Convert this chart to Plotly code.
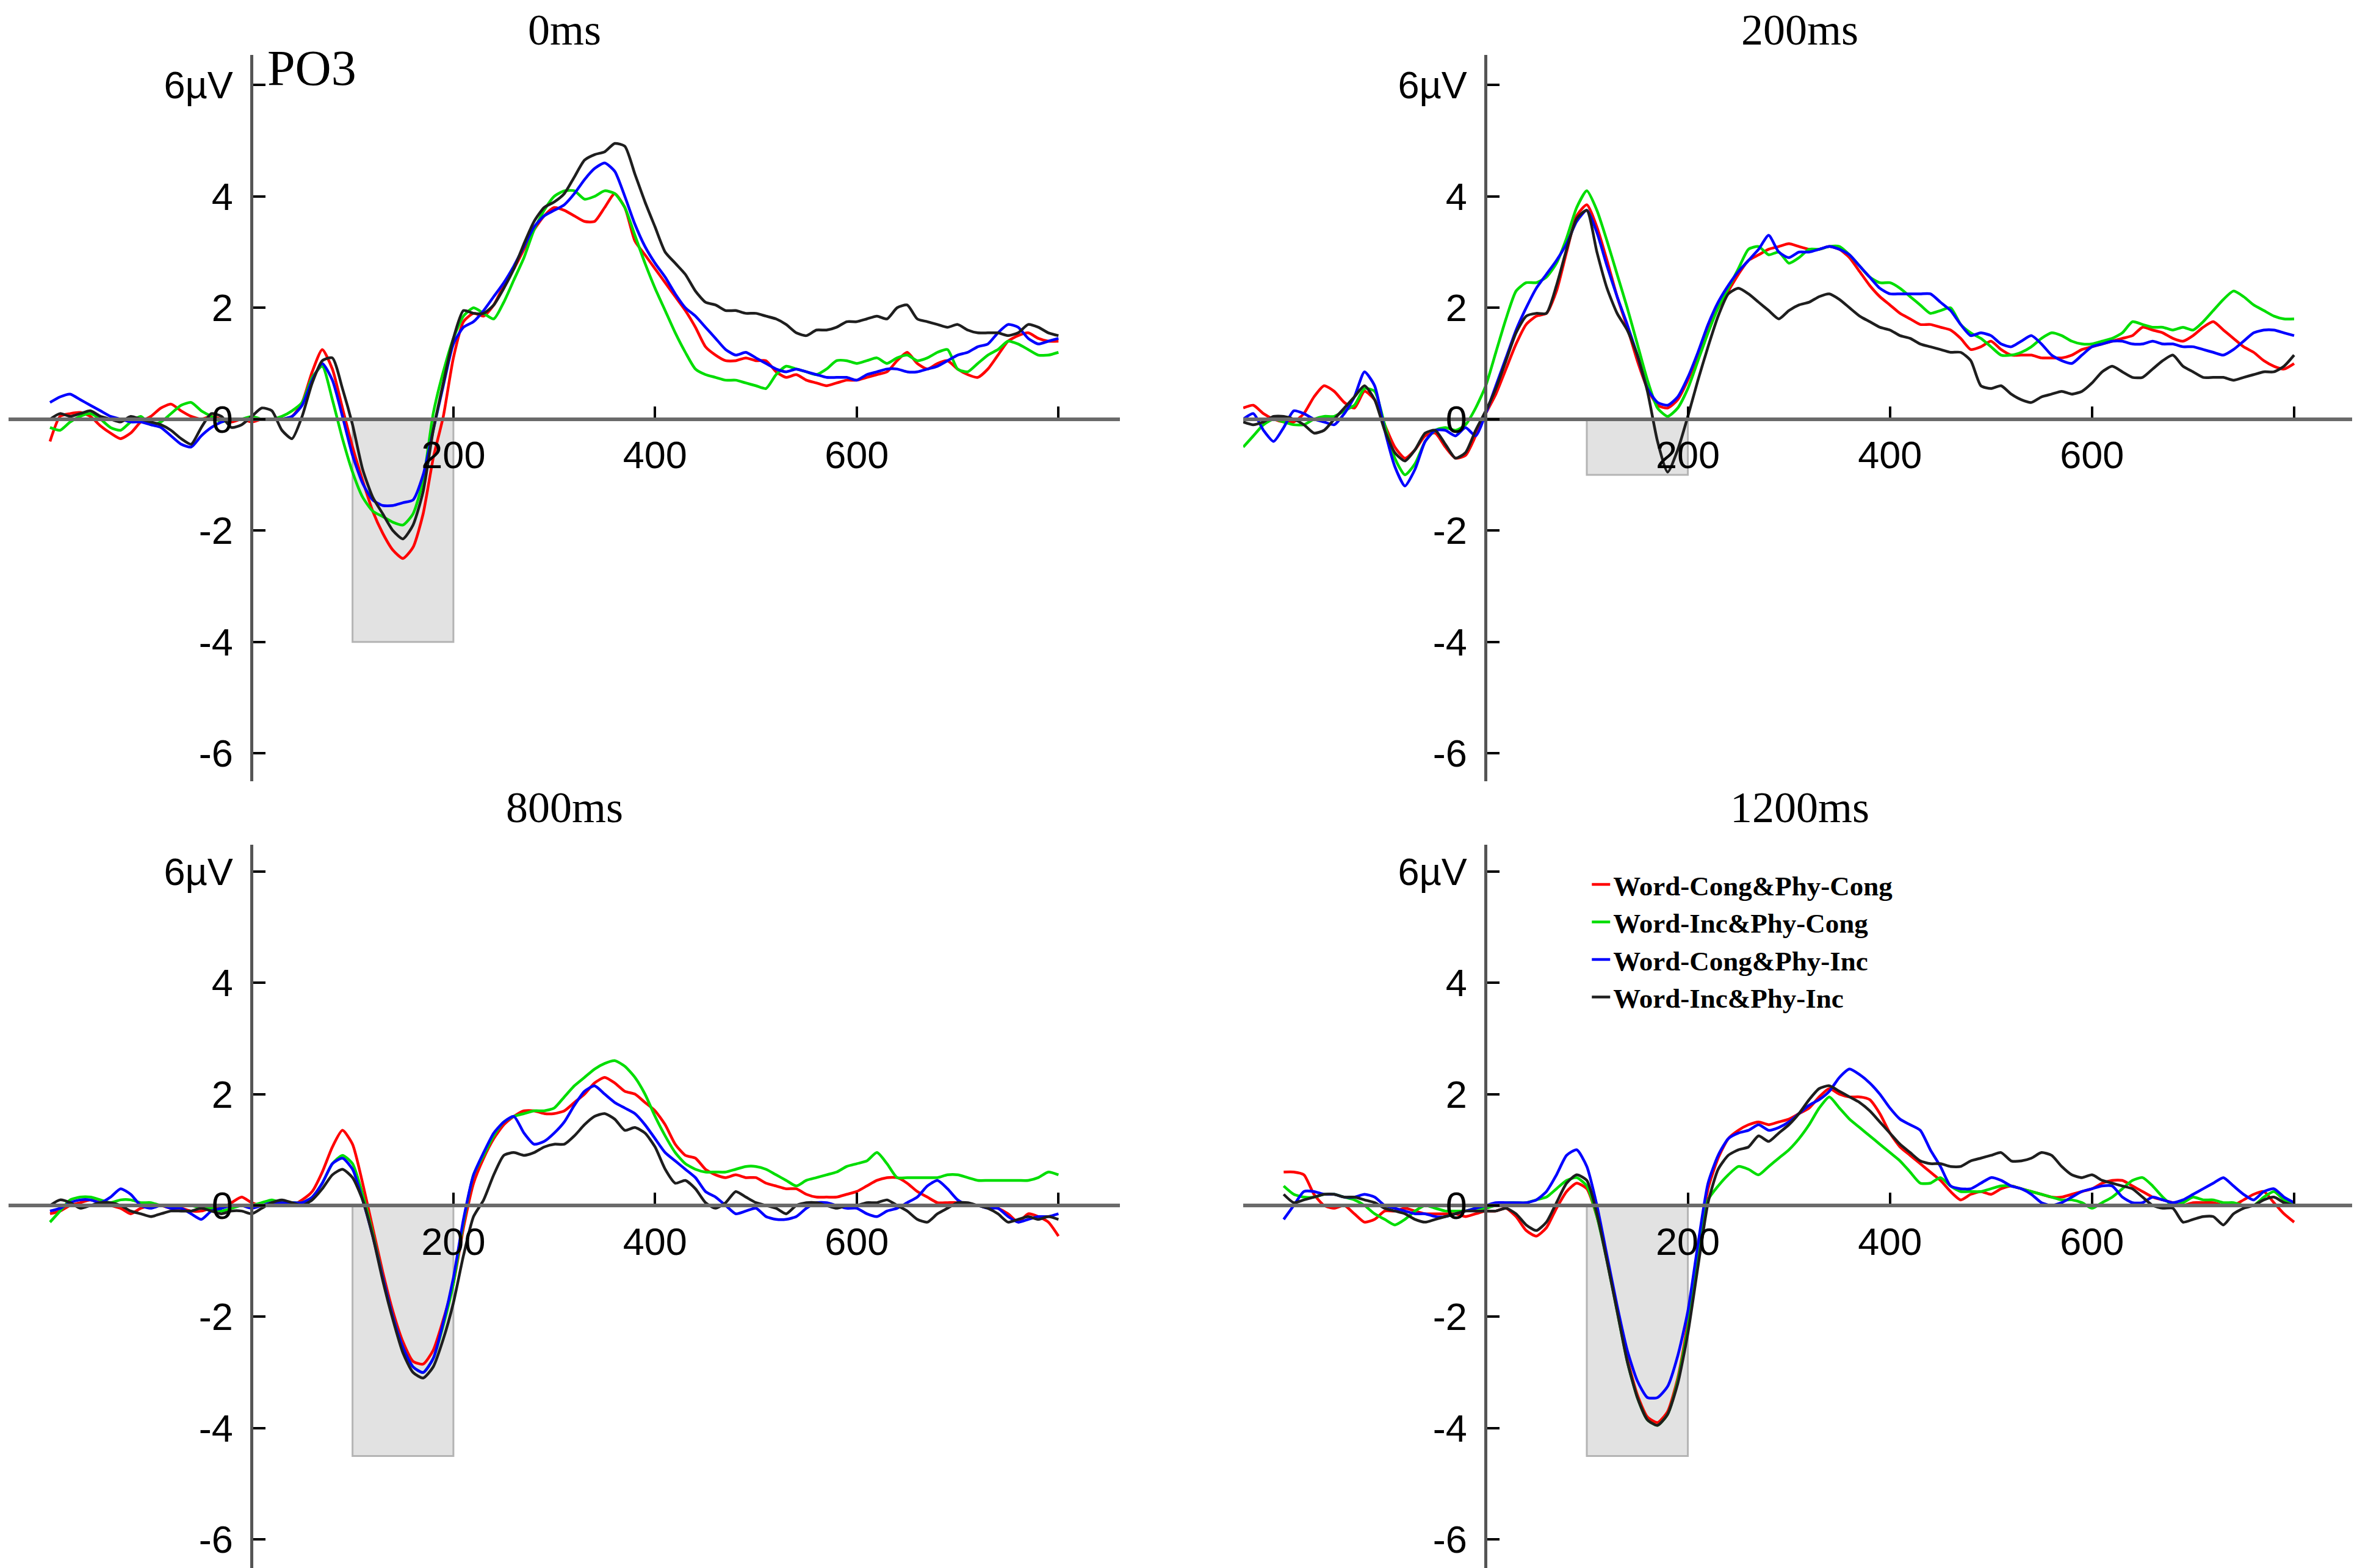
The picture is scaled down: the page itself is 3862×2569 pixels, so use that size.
import plotly.graph_objects as go

# Sample times (ms). The 200ms condition was epoched from -240 ms.
time_std = list(range(-200, 801, 10))
time_200ms = list(range(-240, 801, 10))

conditions = ["Word-Cong&Phy-Cong", "Word-Inc&Phy-Cong", "Word-Cong&Phy-Inc", "Word-Inc&Phy-Inc"]
condition_colors = ["#ff0000", "#00dd00", "#0000ff", "#1e1e1e"]

panel_titles = ["0ms", "200ms", "800ms", "1200ms"]

# Analysis window (grey box): 100-200 ms, floor in µV per panel
window_start = 100
window_end = 200
window_floor = [-4, -1, -4.5, -4.5]

# ---- 0ms panel (µV) ----
red_0ms = [
    -0.40, 0.05, 0.10, 0.12, 0.05, -0.12, -0.25, -0.35, -0.25, -0.05,
    0.05, 0.20, 0.27, 0.15, 0.05, 0.00, 0.05, 0.00, -0.05, 0.00,
    -0.05, 0.00, 0.00, 0.00, 0.05, 0.30, 0.85, 1.25, 0.90, 0.20,
    -0.50, -1.10, -1.65, -2.05, -2.35, -2.50, -2.30, -1.70, -0.70, 0.05,
    1.10, 1.75, 1.90, 1.85, 2.05, 2.40, 2.70, 3.05, 3.40, 3.65,
    3.80, 3.75, 3.65, 3.55, 3.55, 3.80, 4.05, 3.80, 3.20, 2.95,
    2.70, 2.45, 2.20, 1.95, 1.65, 1.30, 1.15, 1.05, 1.05, 1.10,
    1.05, 1.05, 0.85, 0.75, 0.80, 0.70, 0.65, 0.60, 0.65, 0.70,
    0.70, 0.75, 0.80, 0.85, 1.05, 1.20, 1.00, 0.90, 1.00, 1.05,
    0.90, 0.80, 0.75, 0.90, 1.15, 1.40, 1.50, 1.55, 1.45, 1.40,
    1.40,
]
green_0ms = [
    -0.15, -0.20, -0.05, 0.05, 0.10, 0.00, -0.15, -0.20, -0.05, 0.05,
    -0.10, -0.05, 0.10, 0.25, 0.30, 0.15, 0.05, -0.05, 0.00, 0.00,
    0.05, 0.00, 0.00, 0.05, 0.15, 0.30, 0.75, 0.95, 0.35, -0.35,
    -0.95, -1.40, -1.65, -1.75, -1.85, -1.90, -1.70, -1.10, 0.10, 0.85,
    1.45, 1.85, 2.00, 1.90, 1.80, 2.10, 2.50, 2.90, 3.40, 3.75,
    4.00, 4.10, 4.10, 3.95, 4.00, 4.10, 4.05, 3.80, 3.30, 2.80,
    2.35, 1.95, 1.55, 1.20, 0.90, 0.80, 0.75, 0.70, 0.70, 0.65,
    0.60, 0.55, 0.80, 0.95, 0.90, 0.85, 0.80, 0.90, 1.05, 1.05,
    1.00, 1.05, 1.10, 1.00, 1.10, 1.15, 1.05, 1.10, 1.20, 1.25,
    0.90, 0.85, 1.00, 1.15, 1.25, 1.40, 1.35, 1.25, 1.15, 1.15,
    1.20,
]
blue_0ms = [
    0.30, 0.40, 0.45, 0.35, 0.25, 0.15, 0.05, 0.00, -0.05, -0.05,
    -0.10, -0.15, -0.30, -0.45, -0.50, -0.30, -0.15, -0.05, 0.00, 0.00,
    0.00, 0.00, 0.00, 0.00, 0.05, 0.25, 0.70, 1.00, 0.70, 0.05,
    -0.65, -1.15, -1.45, -1.55, -1.55, -1.50, -1.45, -1.00, -0.20, 0.60,
    1.35, 1.65, 1.75, 1.95, 2.20, 2.45, 2.75, 3.10, 3.45, 3.65,
    3.75, 3.85, 4.05, 4.30, 4.50, 4.60, 4.45, 4.00, 3.50, 3.10,
    2.80, 2.55, 2.25, 2.00, 1.85, 1.65, 1.45, 1.25, 1.15, 1.20,
    1.10, 1.00, 0.90, 0.85, 0.90, 0.85, 0.80, 0.75, 0.75, 0.75,
    0.70, 0.80, 0.85, 0.90, 0.90, 0.85, 0.85, 0.90, 0.95, 1.05,
    1.15, 1.20, 1.30, 1.35, 1.55, 1.70, 1.65, 1.45, 1.35, 1.40,
    1.45,
]
black_0ms = [
    0.00, 0.10, 0.05, 0.10, 0.15, 0.05, 0.00, -0.05, 0.05, 0.00,
    -0.05, -0.10, -0.20, -0.35, -0.45, -0.15, 0.10, 0.05, -0.15, -0.10,
    0.05, 0.20, 0.15, -0.20, -0.35, 0.05, 0.65, 1.05, 1.10, 0.55,
    -0.10, -0.90, -1.40, -1.70, -2.00, -2.15, -1.90, -1.30, -0.20, 0.65,
    1.45, 1.95, 1.90, 1.90, 2.05, 2.35, 2.70, 3.15, 3.55, 3.80,
    3.90, 4.05, 4.35, 4.65, 4.75, 4.80, 4.95, 4.90, 4.40, 3.90,
    3.45, 3.00, 2.80, 2.60, 2.30, 2.10, 2.05, 1.95, 1.95, 1.90,
    1.90, 1.85, 1.80, 1.70, 1.55, 1.50, 1.60, 1.60, 1.65, 1.75,
    1.75, 1.80, 1.85, 1.80, 2.00, 2.05, 1.80, 1.75, 1.70, 1.65,
    1.70, 1.60, 1.55, 1.55, 1.55, 1.50, 1.55, 1.70, 1.65, 1.55,
    1.50,
]

# ---- 200ms panel (µV), starts at -240 ms ----
red_200ms = [
    0.20, 0.25, 0.10, 0.00,
    -0.05, -0.05, 0.10, 0.40, 0.60, 0.50, 0.30, 0.20, 0.50, 0.35,
    -0.10, -0.50, -0.70, -0.55, -0.30, -0.25, -0.50, -0.70, -0.65, -0.30,
    0.10, 0.45, 0.90, 1.35, 1.70, 1.85, 1.90, 2.30, 3.00, 3.65,
    3.85, 3.45, 2.85, 2.20, 1.65, 1.05, 0.55, 0.25, 0.20, 0.35,
    0.70, 1.15, 1.60, 2.00, 2.30, 2.60, 2.85, 2.95, 3.05, 3.10,
    3.15, 3.10, 3.05, 3.05, 3.10, 3.05, 2.90, 2.65, 2.40, 2.20,
    2.05, 1.90, 1.80, 1.70, 1.70, 1.65, 1.60, 1.45, 1.25, 1.30,
    1.40, 1.25, 1.15, 1.15, 1.15, 1.10, 1.10, 1.10, 1.15, 1.25,
    1.30, 1.35, 1.40, 1.45, 1.50, 1.65, 1.60, 1.55, 1.45, 1.40,
    1.50, 1.65, 1.75, 1.60, 1.45, 1.30, 1.20, 1.05, 0.95, 0.90,
    1.00,
]
green_200ms = [
    -0.50, -0.30, -0.10, 0.00,
    -0.05, -0.10, -0.10, 0.00, 0.05, 0.05, 0.15, 0.25, 0.55, 0.50,
    -0.10, -0.70, -1.00, -0.80, -0.40, -0.20, -0.15, -0.20, -0.10, 0.20,
    0.60, 1.20, 1.80, 2.30, 2.45, 2.45, 2.55, 2.80, 3.25, 3.80,
    4.10, 3.75, 3.20, 2.60, 2.00, 1.35, 0.70, 0.20, 0.05, 0.20,
    0.55, 1.05, 1.55, 2.00, 2.35, 2.70, 3.05, 3.10, 2.95, 3.00,
    2.80, 2.90, 3.05, 3.05, 3.10, 3.10, 2.95, 2.75, 2.55, 2.45,
    2.45, 2.35, 2.20, 2.05, 1.90, 1.95, 2.00, 1.70, 1.55, 1.45,
    1.30, 1.15, 1.15, 1.20, 1.30, 1.45, 1.55, 1.50, 1.40, 1.35,
    1.35, 1.40, 1.45, 1.55, 1.75, 1.70, 1.65, 1.65, 1.60, 1.65,
    1.60, 1.75, 1.95, 2.15, 2.30, 2.20, 2.05, 1.95, 1.85, 1.80,
    1.80,
]
blue_200ms = [
    0.00, 0.10, -0.20, -0.40,
    -0.15, 0.15, 0.10, 0.00, -0.05, -0.10, 0.10, 0.40, 0.85, 0.60,
    -0.20, -0.85, -1.20, -0.90, -0.40, -0.20, -0.20, -0.30, -0.15, -0.30,
    0.10, 0.60, 1.10, 1.60, 2.00, 2.35, 2.60, 2.85, 3.15, 3.55,
    3.75, 3.35, 2.75, 2.20, 1.70, 1.15, 0.55, 0.30, 0.25, 0.40,
    0.75, 1.20, 1.70, 2.10, 2.40, 2.65, 2.85, 3.05, 3.30, 3.00,
    2.90, 3.00, 3.00, 3.05, 3.10, 3.05, 2.95, 2.75, 2.55, 2.35,
    2.25, 2.25, 2.25, 2.25, 2.25, 2.10, 1.95, 1.70, 1.50, 1.55,
    1.50, 1.35, 1.30, 1.40, 1.50, 1.35, 1.15, 1.05, 1.00, 1.15,
    1.30, 1.35, 1.40, 1.40, 1.35, 1.35, 1.40, 1.35, 1.35, 1.30,
    1.30, 1.25, 1.20, 1.15, 1.25, 1.40, 1.55, 1.60, 1.60, 1.55,
    1.50,
]
black_200ms = [
    -0.05, -0.10, -0.05, 0.05,
    0.05, 0.00, -0.10, -0.25, -0.20, 0.00, 0.20, 0.40, 0.60, 0.35,
    -0.20, -0.60, -0.75, -0.55, -0.25, -0.20, -0.45, -0.70, -0.60, -0.20,
    0.15, 0.55, 1.05, 1.55, 1.85, 1.90, 1.90, 2.40, 3.05, 3.60,
    3.75, 3.00, 2.35, 1.90, 1.60, 1.15, 0.50, -0.40, -0.95, -0.55,
    0.05, 0.70, 1.30, 1.85, 2.25, 2.35, 2.25, 2.10, 1.95, 1.80,
    1.95, 2.05, 2.10, 2.20, 2.25, 2.15, 2.00, 1.85, 1.75, 1.65,
    1.60, 1.50, 1.45, 1.35, 1.30, 1.25, 1.20, 1.20, 1.05, 0.60,
    0.55, 0.60, 0.45, 0.35, 0.30, 0.40, 0.45, 0.50, 0.45, 0.50,
    0.65, 0.85, 0.95, 0.85, 0.75, 0.75, 0.90, 1.05, 1.15, 0.95,
    0.85, 0.75, 0.75, 0.75, 0.70, 0.75, 0.80, 0.85, 0.85, 0.95,
    1.15,
]

# ---- 800ms panel (µV) ----
red_800ms = [
    -0.15, -0.10, 0.00, 0.05, 0.10, 0.05, 0.00, -0.05, -0.15, -0.05,
    0.00, 0.00, -0.05, -0.05, -0.10, -0.10, -0.05, -0.05, 0.05, 0.15,
    0.05, 0.00, 0.05, 0.00, 0.00, 0.10, 0.25, 0.60, 1.05, 1.35,
    1.10, 0.40, -0.40, -1.20, -1.90, -2.45, -2.80, -2.85, -2.60, -2.05,
    -1.40, -0.40, 0.40, 0.85, 1.20, 1.45, 1.60, 1.70, 1.70, 1.65,
    1.65, 1.70, 1.85, 2.00, 2.20, 2.30, 2.20, 2.05, 2.00, 1.85,
    1.70, 1.45, 1.10, 0.90, 0.85, 0.65, 0.55, 0.50, 0.55, 0.50,
    0.50, 0.40, 0.35, 0.30, 0.30, 0.20, 0.15, 0.15, 0.15, 0.20,
    0.25, 0.35, 0.45, 0.50, 0.50, 0.40, 0.25, 0.15, 0.05, 0.05,
    0.05, 0.00, 0.00, 0.00, -0.05, -0.15, -0.30, -0.15, -0.20, -0.30,
    -0.55,
]
green_800ms = [
    -0.30, -0.10, 0.10, 0.15, 0.15, 0.10, 0.05, 0.10, 0.10, 0.05,
    0.05, 0.00, 0.00, 0.00, 0.00, -0.05, -0.05, -0.10, -0.05, 0.00,
    0.00, 0.05, 0.10, 0.05, 0.05, 0.05, 0.15, 0.40, 0.75, 0.90,
    0.75, 0.20, -0.50, -1.30, -2.00, -2.55, -2.90, -3.00, -2.75, -2.15,
    -1.40, -0.30, 0.55, 0.90, 1.25, 1.50, 1.60, 1.65, 1.70, 1.70,
    1.75, 1.95, 2.15, 2.30, 2.45, 2.55, 2.60, 2.50, 2.30, 2.00,
    1.60, 1.25, 0.95, 0.75, 0.65, 0.60, 0.60, 0.60, 0.65, 0.70,
    0.70, 0.65, 0.55, 0.45, 0.35, 0.45, 0.50, 0.55, 0.60, 0.70,
    0.75, 0.80, 0.95, 0.75, 0.50, 0.50, 0.50, 0.50, 0.50, 0.55,
    0.55, 0.50, 0.45, 0.45, 0.45, 0.45, 0.45, 0.45, 0.50, 0.60,
    0.55,
]
blue_800ms = [
    -0.10, -0.05, 0.05, 0.10, 0.10, 0.05, 0.15, 0.30, 0.20, 0.00,
    -0.05, 0.00, -0.05, -0.05, -0.15, -0.25, -0.10, -0.05, 0.00, 0.00,
    -0.05, 0.00, 0.05, 0.05, 0.05, 0.05, 0.15, 0.40, 0.75, 0.85,
    0.65, 0.10, -0.55, -1.30, -2.00, -2.55, -2.90, -3.00, -2.75, -2.10,
    -1.30, -0.25, 0.55, 0.95, 1.30, 1.50, 1.60, 1.30, 1.10, 1.15,
    1.30, 1.50, 1.80, 2.05, 2.15, 2.00, 1.85, 1.75, 1.65, 1.45,
    1.20, 0.95, 0.80, 0.65, 0.50, 0.25, 0.15, 0.00, -0.15, -0.10,
    -0.05, -0.20, -0.25, -0.25, -0.20, -0.05, 0.05, 0.05, 0.00, -0.05,
    -0.05, -0.15, -0.20, -0.10, -0.05, 0.05, 0.15, 0.35, 0.45, 0.30,
    0.10, 0.00, 0.00, -0.05, -0.05, -0.20, -0.30, -0.25, -0.20, -0.20,
    -0.15,
]
black_800ms = [
    0.00, 0.10, 0.05, -0.05, 0.00, 0.05, 0.05, 0.00, -0.10, -0.15,
    -0.20, -0.15, -0.10, -0.10, -0.10, -0.05, -0.10, -0.15, -0.10, -0.10,
    -0.15, -0.05, 0.05, 0.10, 0.05, 0.00, 0.10, 0.30, 0.55, 0.65,
    0.50, 0.10, -0.55, -1.35, -2.05, -2.65, -3.00, -3.10, -2.90, -2.40,
    -1.75, -0.90, -0.20, 0.10, 0.55, 0.90, 0.95, 0.90, 0.95, 1.05,
    1.10, 1.10, 1.25, 1.45, 1.60, 1.65, 1.55, 1.35, 1.40, 1.30,
    1.05, 0.65, 0.40, 0.45, 0.30, 0.05, -0.05, 0.05, 0.25, 0.15,
    0.05, 0.00, -0.05, -0.15, 0.00, 0.05, 0.05, 0.00, -0.05, 0.00,
    0.00, 0.05, 0.05, 0.10, 0.00, -0.10, -0.25, -0.30, -0.15, -0.05,
    0.05, 0.05, 0.00, -0.05, -0.15, -0.30, -0.25, -0.20, -0.25, -0.20,
    -0.25,
]

# ---- 1200ms panel (µV) ----
red_1200ms = [
    0.60, 0.60, 0.55, 0.20, 0.00, -0.05, 0.00, -0.15, -0.30, -0.25,
    -0.10, -0.10, -0.05, -0.10, -0.15, -0.15, -0.15, -0.15, -0.20, -0.15,
    -0.10, -0.10, -0.05, -0.20, -0.45, -0.55, -0.40, -0.05, 0.25, 0.40,
    0.30, -0.20, -0.95, -1.85, -2.75, -3.40, -3.80, -3.90, -3.70, -3.10,
    -2.10, -0.80, 0.30, 0.85, 1.20, 1.35, 1.45, 1.50, 1.45, 1.50,
    1.55, 1.65, 1.75, 1.95, 2.10, 2.00, 1.95, 1.95, 1.90, 1.65,
    1.30, 1.05, 0.90, 0.75, 0.60, 0.45, 0.25, 0.10, 0.20, 0.25,
    0.20, 0.30, 0.35, 0.30, 0.25, 0.20, 0.15, 0.15, 0.20, 0.25,
    0.30, 0.40, 0.45, 0.45, 0.35, 0.25, 0.15, 0.10, 0.05, 0.00,
    0.05, 0.05, 0.05, 0.00, 0.00, 0.10, 0.20, 0.25, 0.05, -0.15,
    -0.30,
]
green_1200ms = [
    0.35, 0.20, 0.15, 0.15, 0.20, 0.20, 0.15, 0.10, 0.00, -0.15,
    -0.25, -0.35, -0.25, -0.10, 0.00, -0.05, -0.10, -0.10, -0.10, -0.05,
    -0.05, 0.00, 0.05, 0.05, 0.05, 0.10, 0.15, 0.30, 0.45, 0.50,
    0.35, -0.20, -1.00, -1.90, -2.80, -3.45, -3.85, -3.95, -3.75, -3.15,
    -2.20, -0.90, 0.10, 0.35, 0.55, 0.70, 0.65, 0.55, 0.70, 0.85,
    1.00, 1.20, 1.45, 1.75, 1.95, 1.75, 1.55, 1.40, 1.25, 1.10,
    0.95, 0.80, 0.60, 0.40, 0.40, 0.50, 0.35, 0.25, 0.25, 0.25,
    0.30, 0.35, 0.35, 0.30, 0.25, 0.20, 0.15, 0.10, 0.10, 0.05,
    -0.05, 0.05, 0.15, 0.30, 0.45, 0.50, 0.35, 0.15, 0.00, 0.05,
    0.15, 0.10, 0.10, 0.05, 0.05, 0.00, 0.00, 0.15, 0.25, 0.10,
    0.00,
]
blue_1200ms = [
    -0.25, 0.00, 0.25, 0.25, 0.20, 0.20, 0.15, 0.15, 0.20, 0.15,
    0.00, -0.05, -0.10, -0.15, -0.15, -0.20, -0.20, -0.15, -0.10, -0.05,
    0.00, 0.05, 0.05, 0.05, 0.05, 0.10, 0.25, 0.55, 0.90, 1.00,
    0.70, 0.00, -0.90, -1.80, -2.60, -3.15, -3.45, -3.45, -3.25, -2.70,
    -1.90, -0.70, 0.40, 0.90, 1.20, 1.30, 1.35, 1.45, 1.35, 1.40,
    1.50, 1.65, 1.80, 1.90, 2.05, 2.30, 2.45, 2.35, 2.20, 2.00,
    1.75, 1.55, 1.45, 1.35, 1.00, 0.70, 0.35, 0.30, 0.30, 0.40,
    0.50, 0.45, 0.35, 0.30, 0.20, 0.05, 0.00, 0.05, 0.15, 0.25,
    0.30, 0.35, 0.35, 0.15, 0.05, 0.05, 0.15, 0.10, 0.05, 0.10,
    0.20, 0.30, 0.40, 0.50, 0.35, 0.20, 0.10, 0.25, 0.30, 0.15,
    0.05,
]
black_1200ms = [
    0.20, 0.05, 0.10, 0.15, 0.20, 0.20, 0.15, 0.15, 0.10, 0.05,
    -0.05, -0.10, -0.15, -0.25, -0.30, -0.25, -0.20, -0.15, -0.10, -0.10,
    -0.10, -0.10, -0.05, -0.15, -0.35, -0.45, -0.30, 0.05, 0.40, 0.55,
    0.45, -0.15, -1.00, -1.90, -2.80, -3.45, -3.85, -3.95, -3.75, -3.20,
    -2.30, -1.10, 0.05, 0.65, 0.90, 1.00, 1.05, 1.25, 1.15, 1.30,
    1.45, 1.65, 1.90, 2.10, 2.15, 2.05, 1.95, 1.85, 1.70, 1.50,
    1.30, 1.10, 0.95, 0.80, 0.75, 0.75, 0.70, 0.70, 0.80, 0.85,
    0.90, 0.95, 0.80, 0.80, 0.85, 0.95, 0.90, 0.70, 0.55, 0.50,
    0.55, 0.45, 0.40, 0.35, 0.30, 0.15, 0.00, -0.05, -0.05, -0.30,
    -0.25, -0.20, -0.20, -0.35, -0.15, -0.05, 0.00, 0.10, 0.15, 0.05,
    0.00,
]

panel_times = [time_std, time_200ms, time_std, time_std]
panel_series = [
    [red_0ms, green_0ms, blue_0ms, black_0ms],
    [red_200ms, green_200ms, blue_200ms, black_200ms],
    [red_800ms, green_800ms, blue_800ms, black_800ms],
    [red_1200ms, green_1200ms, blue_1200ms, black_1200ms],
]

y_tickvals = [-6, -4, -2, 0, 2, 4, 6]
y_ticktext = ["-6", "-4", "-2", "0", "2", "4", "6µV"]
x_tickvals = [200, 400, 600, 800]
x_ticktext = ["200", "400", "600", ""]

# Panel geometry (paper fractions) and axis ranges
x_domains = [[0.0016, 0.4731], [0.5254, 0.9974], [0.0016, 0.4731], [0.5254, 0.9974]]
y_domains = [[0.5049, 0.9681], [0.5049, 0.9681], [0.0, 0.4644], [0.0, 0.4644]]
x_ranges = [[-241, 861], [-240, 861], [-241, 861], [-240, 861]]
y_ranges = [[-6.5, 6.54], [-6.5, 6.54], [-6.6, 6.48], [-6.6, 6.48]]
title_y = [1.0, 1.0, 0.4881, 0.4881]

tick_font = dict(family="Liberation Sans, Arial, sans-serif", size=63, color="black")
serif_font = dict(family="Liberation Serif, Times New Roman, serif", size=72, color="black")

fig = go.Figure()

for i in range(4):
    ax = "" if i == 0 else str(i + 1)
    for name, color, values in zip(conditions, condition_colors, panel_series[i]):
        fig.add_trace(
            go.Scatter(
                x=panel_times[i],
                y=values,
                mode="lines",
                name=name,
                legendgroup=name,
                showlegend=(i == 0),
                line=dict(color=color, width=4.5, shape="spline", smoothing=0.6),
                xaxis="x" + ax,
                yaxis="y" + ax,
            )
        )

    # grey analysis window
    fig.add_shape(
        type="rect",
        xref="x" + ax,
        yref="y" + ax,
        x0=window_start,
        x1=window_end,
        y0=0,
        y1=window_floor[i],
        fillcolor="#e2e2e2",
        line=dict(color="#b4b4b4", width=3),
        layer="below",
    )

    xd, yd, xr, yr = x_domains[i], y_domains[i], x_ranges[i], y_ranges[i]
    # axes cross at (0 ms, 0 µV)
    x_axis_pos = yd[0] + (0 - yr[0]) / (yr[1] - yr[0]) * (yd[1] - yd[0])
    y_axis_pos = xd[0] + (0 - xr[0]) / (xr[1] - xr[0]) * (xd[1] - xd[0])

    fig.layout["xaxis" + ax] = dict(
        domain=xd,
        range=xr,
        anchor="free",
        position=x_axis_pos,
        showline=True,
        linecolor="#6a6a6a",
        linewidth=6,
        ticks="inside",
        ticklen=18,
        tickwidth=4,
        tickcolor="black",
        tickvals=x_tickvals,
        ticktext=x_ticktext,
        tickfont=tick_font,
        ticklabelstandoff=2,
        showgrid=False,
        zeroline=False,
        fixedrange=True,
    )
    fig.layout["yaxis" + ax] = dict(
        domain=yd,
        range=yr,
        anchor="free",
        position=y_axis_pos,
        showline=True,
        linecolor="#555555",
        linewidth=5,
        ticks="inside",
        ticklen=20,
        tickwidth=4,
        tickcolor="black",
        tickvals=y_tickvals,
        ticktext=y_ticktext,
        tickfont=tick_font,
        ticklabelstandoff=16,
        showgrid=False,
        zeroline=False,
        fixedrange=True,
    )

    fig.add_annotation(
        text=panel_titles[i],
        xref="paper",
        yref="paper",
        x=(xd[0] + xd[1]) / 2,
        y=title_y[i],
        xanchor="center",
        yanchor="top" if i < 2 else "middle",
        borderpad=0,
        showarrow=False,
        font=serif_font,
    )

# electrode label
fig.add_annotation(
    text="PO3",
    xref="x",
    yref="y",
    x=14,
    y=6.3,
    xanchor="left",
    yanchor="middle",
    showarrow=False,
    font=dict(family="Liberation Serif, Times New Roman, serif", size=82, color="black"),
)

fig.update_layout(
    width=3862,
    height=2569,
    margin=dict(l=0, r=0, t=0, b=0),
    paper_bgcolor="white",
    plot_bgcolor="white",
    legend=dict(
        x=0.672,
        y=0.453,
        xanchor="left",
        yanchor="top",
        bgcolor="rgba(0,0,0,0)",
        font=dict(family="Liberation Serif, Times New Roman, serif", size=45, color="black", weight="bold"),
        tracegroupgap=0,
    ),
)

fig.write_html("out.html")
